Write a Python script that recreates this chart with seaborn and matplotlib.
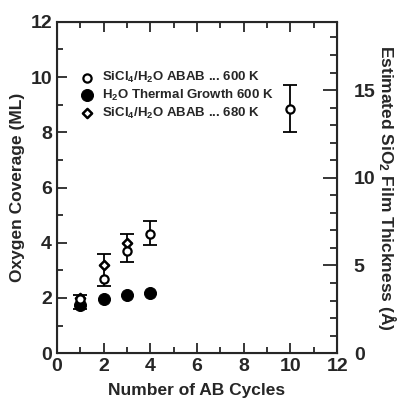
import numpy as np
import pandas as pd
import matplotlib
matplotlib.use("Agg")
import matplotlib.pyplot as plt
import seaborn as sns

# data
abab600_x = [1, 2, 3, 4, 10]
abab600_y = [1.95, 2.7, 3.7, 4.3, 8.85]
abab600_lo = [0.35, 0.25, 0.4, 0.4, 0.85]
abab600_hi = [0.15, 0.9, 0.6, 0.5, 0.85]

thermal_x = [1, 2, 3, 4]
thermal_y = [1.75, 1.97, 2.1, 2.17]

abab680_x = [1, 2, 3]
abab680_y = [2.0, 3.2, 4.0]

labels = [r"SiCl$_4$/H$_2$O ABAB ... 600 K",
          r"H$_2$O Thermal Growth 600 K",
          r"SiCl$_4$/H$_2$O ABAB ... 680 K"]

ml_to_angstrom = 1.574

sns.set_style("ticks")
plt.rcParams["font.family"] = ["Liberation Sans", "DejaVu Sans"]
plt.rcParams["font.weight"] = "bold"
plt.rcParams["mathtext.fontset"] = "custom"
plt.rcParams["mathtext.rm"] = "Liberation Sans:bold"
plt.rcParams["mathtext.it"] = "Liberation Sans:bold"
plt.rcParams["mathtext.bf"] = "Liberation Sans:bold"

fig = plt.figure(figsize=(3.98, 4.05), dpi=100)
ax = fig.add_axes([0.143, 0.128, 0.704, 0.818])

df600 = pd.DataFrame({"x": abab600_x, "y": abab600_y})
dfth = pd.DataFrame({"x": thermal_x, "y": thermal_y})
df680 = pd.DataFrame({"x": abab680_x, "y": abab680_y})

ax.errorbar(abab600_x, abab600_y, yerr=[abab600_lo, abab600_hi], fmt="none",
            ecolor="black", elinewidth=1.3, capsize=5, capthick=1.3, zorder=2)

sns.scatterplot(data=dfth, x="x", y="y", ax=ax, marker="o", s=75,
                color="black", edgecolor="black", label=labels[1], zorder=3)
sns.scatterplot(data=df680, x="x", y="y", ax=ax, marker="D", s=22,
                facecolor="white", edgecolor="black", linewidth=1.8, label=labels[2], zorder=4)
sns.scatterplot(data=df600, x="x", y="y", ax=ax, marker="o", s=35,
                facecolor="white", edgecolor="black", linewidth=1.6, label=labels[0], zorder=5)

ax.set_xlim(0, 12)
ax.set_ylim(0, 12)
ax.set_xticks(np.arange(0, 13, 2))
ax.set_xticks(np.arange(0, 13, 1), minor=True)
ax.set_yticks(np.arange(0, 13, 2))
ax.set_yticks(np.arange(0, 13, 1), minor=True)
ax.tick_params(which="both", direction="in", top=True, labelsize=14, width=1.3)
ax.tick_params(which="major", length=7)
ax.tick_params(which="minor", length=4)
for s in ax.spines.values():
    s.set_linewidth(1.5)

ax.set_xlabel("Number of AB Cycles", fontsize=12.5, fontweight="bold", labelpad=6)
ax.set_ylabel("Oxygen Coverage (ML)", fontsize=12.5, fontweight="bold", labelpad=4)

ax2 = ax.twinx()
ax2.set_ylim(0, 12 * ml_to_angstrom)
ax2.set_yticks([0, 5, 10, 15])
ax2.set_yticks(np.arange(0, 19, 1), minor=True)
ax2.tick_params(which="both", direction="in", labelsize=14, width=1.3)
ax2.tick_params(which="major", length=10, pad=12)
ax2.tick_params(which="minor", length=5)
ax2.set_ylabel("Estimated SiO$_2$ Film Thickness (Å)", fontsize=12.5,
               fontweight="bold", rotation=270, labelpad=16)

h, l = ax.get_legend_handles_labels()
order = [l.index(t) for t in labels]
ax.legend([h[i] for i in order], [l[i] for i in order], loc="upper left",
          bbox_to_anchor=(0.04, 0.87), frameon=False, fontsize=9.5,
          handletextpad=0.2, labelspacing=0.2, borderaxespad=0)

fig.savefig("out.png", dpi=100)
